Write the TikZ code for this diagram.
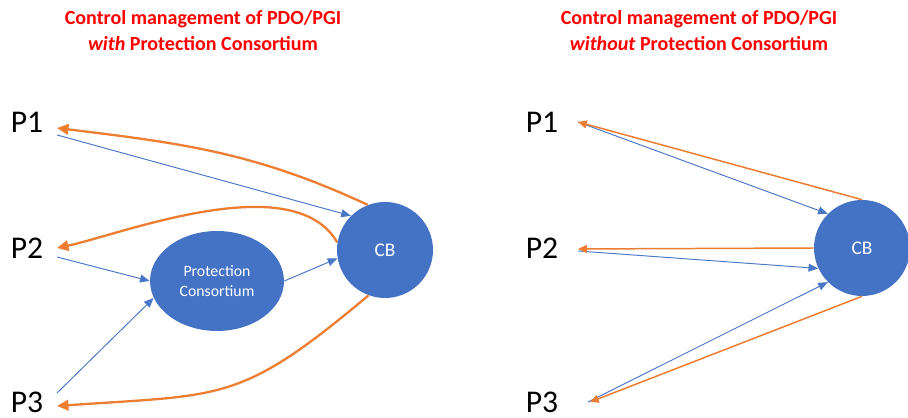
\documentclass[tikz,border=0pt]{standalone}
\usepackage{fontspec}
\setmainfont{Carlito}
\usepackage{xcolor}
\usetikzlibrary{shapes.geometric,arrows.meta}

\definecolor{cbblue}{HTML}{4472C4}
\definecolor{flowblue}{HTML}{4A78C8}
\definecolor{backorange}{HTML}{ED7D31}

\tikzset{
    titletext/.style={text=red, align=center, font=\bfseries\fontsize{11.4}{14.8}\selectfont},
    plabel/.style={inner xsep=0.27cm, font=\fontsize{18}{20}\selectfont},
    cbnode/.style={circle, fill=cbblue, text=white, minimum size=1.92cm, font=\fontsize{11}{13}\selectfont},
    pcnode/.style={ellipse, fill=cbblue, text=white, minimum width=2.68cm, minimum height=2cm,
        align=center, font=\fontsize{9}{11}\selectfont},
    bluearrow/.style={draw=flowblue, line width=0.55pt, -{Triangle[length=5.5pt,width=4.5pt]}},
    orangethick/.style={draw=backorange, line width=1.3pt, -{Triangle[length=6.5pt,width=6pt]}},
    orangethin/.style={draw=backorange, line width=0.85pt, -{Triangle[length=5pt,width=4.5pt]}},
}

\begin{document}
\begin{tikzpicture}[x=0.02cm, y=0.02cm]
    \useasboundingbox (0,0) rectangle (908,418);

    \begin{scope}
        % With Protection Consortium
        \node[titletext] (titleL) at (203,387) {Control management of PDO/PGI\\\textit{with} Protection Consortium};
        \node[plabel] (p1L) at (27,296) {P1};
        \node[plabel] (p2L) at (27,170) {P2};
        \node[plabel] (p3L) at (27,16) {P3};
        \node[pcnode] (pcL) at (217,137) {Protection\\Consortium};
        \node[cbnode] (cbL) at (385,168) {CB};

        % Control flow
        \draw[bluearrow] ([yshift=-0.26cm]p1L.east) -- (cbL.135);
        \draw[bluearrow] ([yshift=-0.18cm]p2L.east) -- (pcL.west);
        \draw[bluearrow] ([yshift=0.18cm]p3L.east) -- (pcL.195);
        \draw[bluearrow] (pcL.east) -- (cbL.190);

        % Feedback from CB
        \draw[orangethick] (cbL.111) to[out=155, in=-7] ([yshift=-0.12cm]p1L.east);
        \draw[orangethick] (cbL.171) to[out=120, in=12, out looseness=0.8, in looseness=0.6] (p2L.east);
        \draw[orangethick] (cbL.250) to[out=220, in=4, looseness=1.3] ([yshift=-0.08cm]p3L.east);
    \end{scope}

    \begin{scope}
        % Without Protection Consortium
        \node[titletext] (titleR) at (699,387) {Control management of PDO/PGI\\\textit{without} Protection Consortium};
        \node[plabel] (p1R) at (542,296) {P1};
        \node[plabel] (p2R) at (542,170) {P2};
        \node[plabel] (p3R) at (542,16) {P3};
        \node[cbnode] (cbR) at (862,170) {CB};

        % Control flow
        \draw[bluearrow] ([xshift=0.12cm]p1R.east) -- (cbR.135);
        \draw[bluearrow] ([xshift=0.12cm, yshift=-0.06cm]p2R.east) -- (cbR.205);
        \draw[bluearrow] ([xshift=0.32cm]p3R.east) -- (cbR.225);

        % Feedback from CB
        \draw[orangethin] (cbR.north) -- ([xshift=0.12cm]p1R.east);
        \draw[orangethin] (cbR.west) -- ([xshift=0.12cm, yshift=-0.02cm]p2R.east);
        \draw[orangethin] (cbR.south) -- ([xshift=0.36cm]p3R.east);
    \end{scope}
\end{tikzpicture}
\end{document}
